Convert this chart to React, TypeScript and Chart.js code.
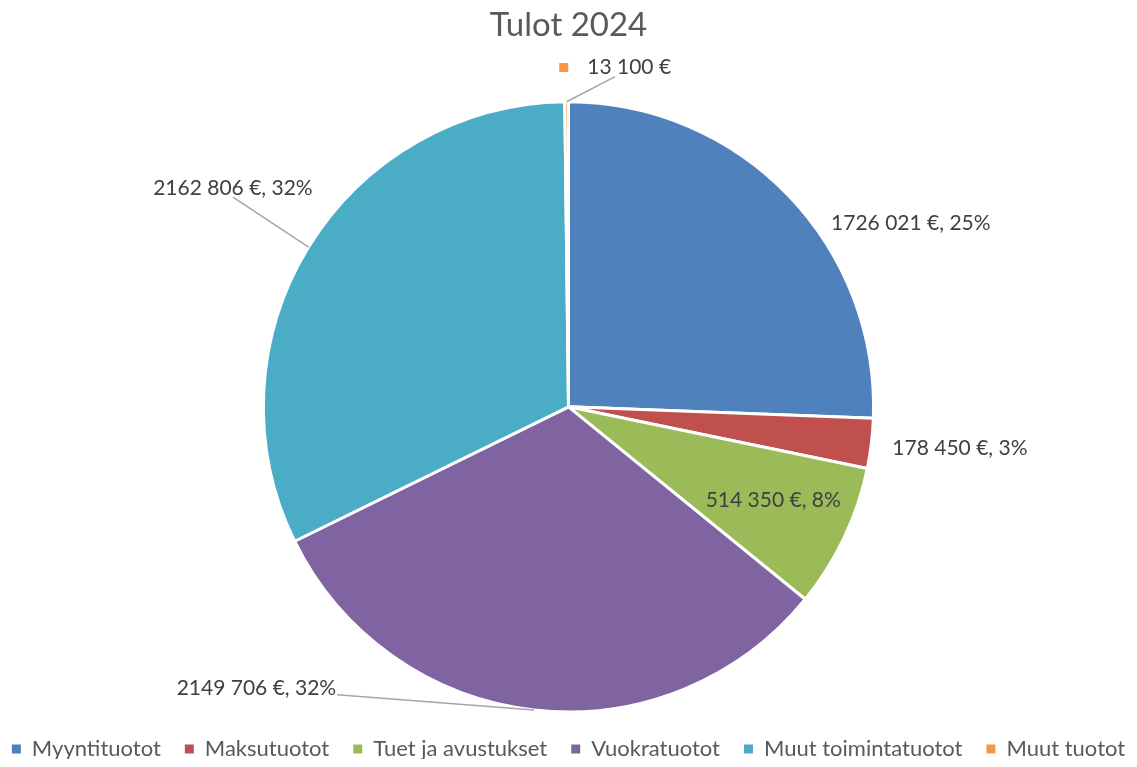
import React, { useEffect, useRef } from "react";
import { Chart, registerables } from "chart.js";

Chart.register(...registerables);

const categories = [
  "Myyntituotot",
  "Maksutuotot",
  "Tuet ja avustukset",
  "Vuokratuotot",
  "Muut toimintatuotot",
  "Muut tuotot",
];
const values = [1726021, 178450, 514350, 2149706, 2162806, 13100];
const percentLabels = [25, 3, 8, 32, 32, null];
const colors = ["#4F81BD", "#C0504D", "#9BBB59", "#8064A2", "#4BACC6", "#F79646"];
const titleText = "Tulot 2024";

const FONT = "Lato, 'Open Sans', sans-serif";

// label placement relative to pie centre, in units of the radius
const LABEL_LAYOUT = [
  { dx: 1.122, dy: -0.602, leader: null },
  { dx: 1.283, dy: 0.135, leader: null },
  { dx: 0.671, dy: 0.306, leader: null },
  { dx: -1.023, dy: 0.924, leader: "right" },
  { dx: -1.1, dy: -0.717, leader: "bottom" },
  { dx: 0.153, dy: -1.112, leader: "bottom", key: true },
];

function fmt(v: number): string {
  const th = Math.floor(v / 1000);
  const rest = v % 1000;
  const s = th > 0 ? th + " " + String(rest).padStart(3, "0") : String(rest);
  return s + " €";
}

const labelPlugin = {
  id: "sliceLabels",
  afterDatasetsDraw(chart: any) {
    const meta = chart.getDatasetMeta(0);
    const ctx = chart.ctx;
    ctx.save();
    ctx.font = `21px ${FONT}`;
    ctx.textBaseline = "middle";
    meta.data.forEach((arc: any, i: number) => {
      const p = arc.getProps(["x", "y", "outerRadius", "startAngle", "endAngle"], true);
      const spec = LABEL_LAYOUT[i];
      const pct = percentLabels[i];
      const text = fmt(values[i]) + (pct !== null ? ", " + pct + "%" : "");
      const tw = ctx.measureText(text).width;
      const keySize = 9;
      const keyGap = 19;
      const groupW = spec.key ? keySize + keyGap + tw : tw;
      const cx = p.x + spec.dx * p.outerRadius;
      const cy = p.y + spec.dy * p.outerRadius;
      const left = cx - groupW / 2;
      if (spec.leader) {
        const mid = (p.startAngle + p.endAngle) / 2;
        const sx = p.x + Math.cos(mid) * p.outerRadius;
        const sy = p.y + Math.sin(mid) * p.outerRadius;
        let ex: number, ey: number;
        if (spec.leader === "right") {
          ex = left + groupW + 1;
          ey = cy + 6;
        } else {
          ex = cx;
          ey = cy + 9;
        }
        ctx.beginPath();
        ctx.moveTo(sx, sy);
        ctx.lineTo(ex, ey);
        ctx.strokeStyle = "#A6A6A6";
        ctx.lineWidth = 1.5;
        ctx.stroke();
      }
      let tx = left;
      if (spec.key) {
        ctx.fillStyle = colors[i];
        ctx.fillRect(left, cy - keySize / 2, keySize, keySize);
        tx = left + keySize + keyGap;
      }
      ctx.fillStyle = "#404040";
      ctx.textAlign = "left";
      ctx.fillText(text, tx, cy);
    });
    ctx.restore();
  },
};

export default function App() {
  const ref = useRef<HTMLCanvasElement | null>(null);
  useEffect(() => {
    if (!ref.current) return;
    const chart = new Chart(ref.current, {
      type: "pie",
      data: {
        labels: categories,
        datasets: [
          {
            data: values,
            backgroundColor: colors,
            borderColor: "#FFFFFF",
            borderWidth: 3,
            radius: "99.8%",
          },
        ],
      },
      options: {
        responsive: true,
        maintainAspectRatio: false,
        animation: false,
        layout: { padding: { top: -2, bottom: -3, left: -30, right: -30 } },
        plugins: {
          title: {
            display: true,
            text: titleText,
            color: "#595959",
            font: { family: FONT, size: 33, weight: "normal" },
            padding: { top: 0, bottom: 54 },
          },
          legend: {
            position: "bottom",
            labels: {
              color: "#595959",
              font: { family: FONT, size: 22 },
              boxWidth: 9,
              boxHeight: 9,
              padding: 24,
              generateLabels: (c: any) => {
                const base = (Chart as any).overrides.pie.plugins.legend.labels.generateLabels(c);
                return base.map((l: any) => ({ ...l, lineWidth: 0, strokeStyle: l.fillStyle }));
              },
            },
          },
          tooltip: { enabled: false },
        },
      },
      plugins: [labelPlugin],
    });
    return () => chart.destroy();
  }, []);
  return (
    <div style={{ width: "1121px", height: "759px", marginBottom: "-8px", position: "relative" }}>
      <canvas ref={ref} />
    </div>
  );
}
